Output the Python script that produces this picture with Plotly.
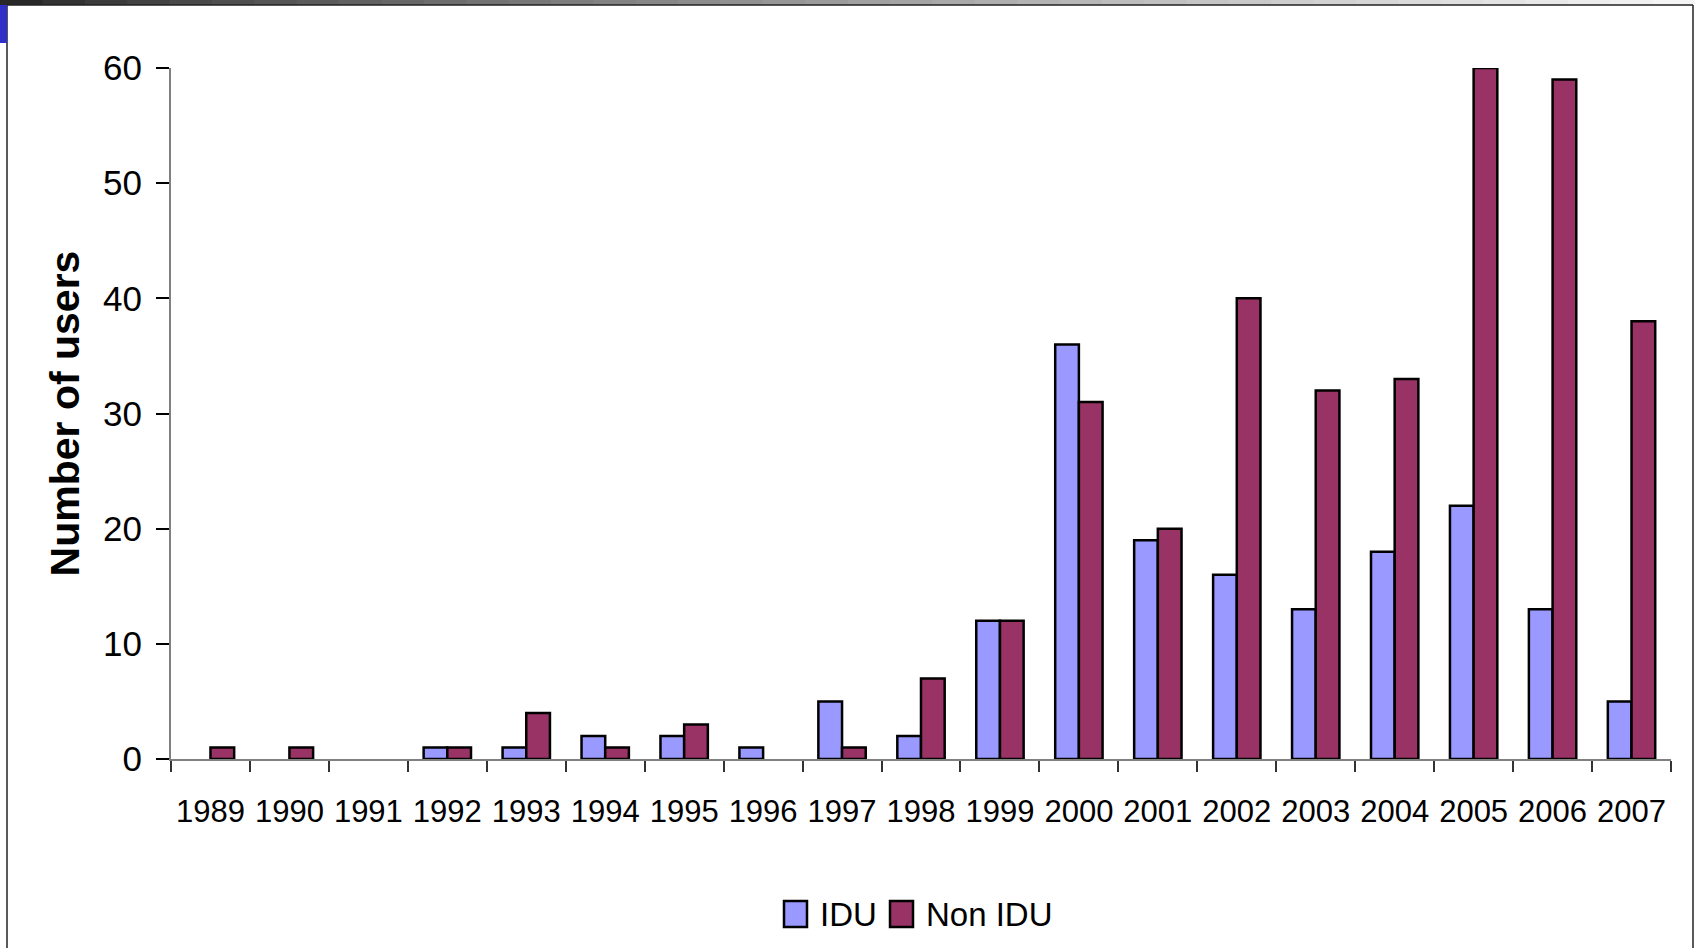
import plotly.graph_objects as go

years = ["1989", "1990", "1991", "1992", "1993", "1994", "1995", "1996", "1997", "1998",
         "1999", "2000", "2001", "2002", "2003", "2004", "2005", "2006", "2007"]
idu = [0, 0, 0, 1, 1, 2, 2, 1, 5, 2, 12, 36, 19, 16, 13, 18, 22, 13, 5]
non_idu = [1, 1, 0, 1, 4, 1, 3, 0, 1, 7, 12, 31, 20, 40, 32, 33, 60, 59, 38]
y_ticks = [0, 10, 20, 30, 40, 50, 60]

C_IDU = "#9999FF"
C_NON = "#993366"
FONT = "Liberation Sans, Arial, sans-serif"

W, H = 1695, 948
L, R, T, B = 171, 1671, 68, 759


def px(x):
    return (x - L) / (R - L)


def py(y):
    return (B - y) / (B - T)


def outline(vals):
    return [0 if v == 0 else 2.5 for v in vals]


fig = go.Figure()
fig.add_trace(go.Bar(x=years, y=idu, name="IDU",
                     marker=dict(color=C_IDU, line=dict(color="black", width=outline(idu)))))
fig.add_trace(go.Bar(x=years, y=non_idu, name="Non IDU",
                     marker=dict(color=C_NON, line=dict(color="black", width=outline(non_idu)))))

shapes = []
# top gradient bar
n = 40
for i in range(n):
    x0 = W * i / n
    x1 = W * (i + 1) / n
    t = i / (n - 1)
    g = int(40 + 205 * (t ** 0.8))
    shapes.append(dict(type="rect", xref="paper", yref="paper", x0=px(x0), x1=px(x1) + 0.001,
                       y0=py(5), y1=py(0), fillcolor=f"rgb({g},{g},{g})", line=dict(width=0), layer="above"))
# frame lines
shapes.append(dict(type="line", xref="paper", yref="paper", x0=px(7), x1=px(1693), y0=py(5), y1=py(5),
                   line=dict(color="#222", width=1.5)))
shapes.append(dict(type="line", xref="paper", yref="paper", x0=px(7), x1=px(7), y0=py(5), y1=py(948),
                   line=dict(color="#222", width=1.5)))
shapes.append(dict(type="line", xref="paper", yref="paper", x0=px(1693), x1=px(1693), y0=py(5), y1=py(948),
                   line=dict(color="#222", width=1.5)))
# blue corner mark
shapes.append(dict(type="rect", xref="paper", yref="paper", x0=px(0), x1=px(7), y0=py(43), y1=py(5),
                   fillcolor="#3030C8", line=dict(width=0)))
# legend swatches
shapes.append(dict(type="rect", xref="paper", yref="paper", x0=px(784), x1=px(807), y0=py(927), y1=py(901),
                   fillcolor=C_IDU, line=dict(color="black", width=2.5)))
shapes.append(dict(type="rect", xref="paper", yref="paper", x0=px(890), x1=px(913), y0=py(927), y1=py(901),
                   fillcolor=C_NON, line=dict(color="black", width=2.5)))

annotations = [
    dict(xref="paper", yref="paper", x=px(818), y=py(914), text="IDU", showarrow=False,
         xanchor="left", yanchor="middle", font=dict(family=FONT, size=33, color="black")),
    dict(xref="paper", yref="paper", x=px(924), y=py(914), text="Non IDU", showarrow=False,
         xanchor="left", yanchor="middle", font=dict(family=FONT, size=33, color="black")),
]

fig.update_layout(
    width=W, height=H,
    margin=dict(l=L, r=W - R, t=T, b=H - B, autoexpand=False),
    paper_bgcolor="white", plot_bgcolor="white",
    barmode="group", bargap=0.4, bargroupgap=0,
    showlegend=False,
    shapes=shapes,
    annotations=annotations,
    xaxis=dict(type="category", tickson="boundaries", ticks="outside", ticklen=11, tickwidth=1.5,
               tickcolor="#333", showline=True, linecolor="#808080", linewidth=2, tickangle=0,
               tickfont=dict(family=FONT, size=31, color="black"), showgrid=False,
               ticklabelstandoff=24, automargin=False),
    yaxis=dict(range=[0, 60], tickvals=y_ticks, ticks="outside", ticklen=13, tickwidth=1.5,
               tickcolor="black", showline=True, linecolor="#808080", linewidth=2,
               tickfont=dict(family=FONT, size=35, color="black"), showgrid=False, zeroline=False,
               ticklabelstandoff=7, automargin=False,
               title=dict(text="Number of users", standoff=11,
                          font=dict(family=FONT, size=41, color="black", weight="bold"))),
)

fig.write_html("out.html", config={"displayModeBar": False},
               post_script="document.body.style.margin='0';document.body.style.overflow='hidden';")
